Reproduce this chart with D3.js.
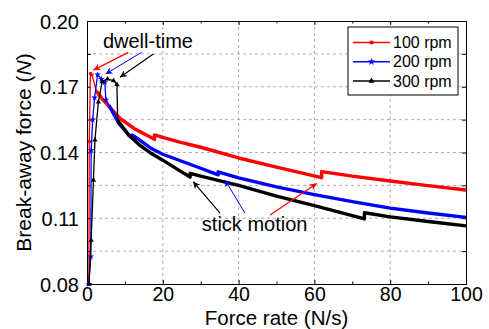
<!DOCTYPE html>
<html>
<head>
<meta charset="utf-8">
<script src="https://cdn.jsdelivr.net/npm/d3@7"></script>
<style>
  body { margin: 0; background: #fff; }
  text { font-family: "Liberation Sans", Arial, sans-serif; fill: #000; }
</style>
</head>
<body>
<svg id="chart" width="489" height="329"></svg>
<script>
// values (force rate N/s, break-away force N)
var red_x = [0.5, 0.6, 0.9, 1.3, 2.5, 4.0, 5.8, 8.7, 12.4, 17.8, 17.8, 20, 25, 30, 40, 50, 61.9, 61.9, 70, 80, 90, 100];
var red_y = [0.080, 0.145, 0.176, 0.1755, 0.168, 0.1645, 0.161, 0.1556, 0.151, 0.146, 0.148, 0.1469, 0.1445, 0.1424, 0.1375, 0.1333, 0.1285, 0.1313, 0.1292, 0.1270, 0.1249, 0.1229];

var blue_x = [0.5, 1.0, 1.1, 1.5, 2.0, 2.8, 3.8, 4.7, 5.0, 5.8, 8.4, 11.4, 11.9, 14, 17, 20, 25, 30, 34.6, 34.6, 40, 50, 60, 70, 80, 90, 100];
var blue_y = [0.080, 0.0925, 0.141, 0.155, 0.165, 0.1755, 0.1735, 0.172, 0.164, 0.1615, 0.1533, 0.1472, 0.148, 0.1455, 0.1418, 0.1392, 0.136, 0.1328, 0.1298, 0.1312, 0.1284, 0.1243, 0.1208, 0.1176, 0.1146, 0.1124, 0.1104];

var black_x = [0.5, 1.1, 1.7, 2.1, 3.0, 4.0, 5.4, 7.0, 7.9, 8.1, 8.7, 11, 14, 17, 20, 24, 27.2, 27.2, 30, 40, 50, 60, 70, 73.2, 73.2, 80, 90, 100];
var black_y = [0.080, 0.100, 0.1274, 0.1457, 0.163, 0.1723, 0.1735, 0.1728, 0.171, 0.1545, 0.1533, 0.148, 0.1432, 0.1395, 0.1365, 0.1322, 0.1288, 0.1305, 0.1292, 0.1250, 0.1201, 0.1158, 0.1112, 0.1097, 0.1125, 0.1106, 0.1085, 0.1065];

var series_names = ["100 rpm", "200 rpm", "300 rpm"];
var x_ticks = [0, 10, 20, 30, 40, 50, 60, 70, 80, 90, 100];
var x_labels = [0, 20, 40, 60, 80, 100];
var y_ticks = [0.08, 0.095, 0.11, 0.125, 0.14, 0.155, 0.17, 0.185, 0.20];
var y_labels = [0.08, 0.11, 0.14, 0.17, 0.20];

// annotation arrows [series index, x0, y0, x1(tip), y1(tip)]
var dwell_arrows = [[0, 10.9, 0.1857, 1.7, 0.1776], [1, 14.4, 0.1857, 4.9, 0.1758], [2, 17.5, 0.1849, 8.7, 0.1743]];
var stick_arrows = [[2, 35.1, 0.1123, 28.0, 0.1267], [1, 41.7, 0.1123, 36.4, 0.1275], [0, 48.3, 0.1115, 60.6, 0.1259]];

var colors = ["#ff0000", "#0000ff", "#000000"];
var symbols = [d3.symbolSquare, d3.symbolStar, d3.symbolTriangle];
var symsize = [9, 14, 12];
var dense_from = [2.4, 5.5, 8.0];  // after this x the markers merge into a thick line

var margin = {left: 87, right: 23, top: 21, bottom: 45};
var svg = d3.select("#chart");
var width = 489 - margin.left - margin.right;
var height = 329 - margin.top - margin.bottom;

var x = d3.scaleLinear().domain([0, 100]).range([0, width]);
var y = d3.scaleLinear().domain([0.08, 0.20]).range([height, 0]);

var g = svg.append("g")
    .attr("transform", "translate(" + margin.left + "," + margin.top + ")");

// grid
g.selectAll(".vgrid")
  .data(x_labels.filter(d => d > 0 && d < 100))
  .enter().append("line")
    .attr("x1", d => x(d)).attr("x2", d => x(d))
    .attr("y1", 0).attr("y2", height)
    .attr("stroke", "#9a9a9a").attr("stroke-dasharray", "3,3").attr("stroke-width", 0.8);
g.selectAll(".hgrid")
  .data(y_ticks.slice(1, -1))
  .enter().append("line")
    .attr("y1", d => y(d)).attr("y2", d => y(d))
    .attr("x1", 0).attr("x2", width)
    .attr("stroke", "#9a9a9a").attr("stroke-dasharray", "3,3").attr("stroke-width", 0.8);

// axes with inward ticks
var fmt = d3.format(".2f");
var xb = g.append("g").attr("transform", "translate(0," + height + ")")
  .call(d3.axisBottom(x).tickValues(x_ticks).tickSize(-4).tickPadding(4)
    .tickFormat(d => x_labels.indexOf(d) >= 0 ? d : ""));
var xt = g.append("g")
  .call(d3.axisTop(x).tickValues(x_ticks).tickSize(-4).tickFormat(""));
var yl = g.append("g")
  .call(d3.axisLeft(y).tickValues(y_ticks).tickSize(-4).tickPadding(8)
    .tickFormat(d => y_labels.some(v => Math.abs(v - d) < 1e-6) ? fmt(d) : ""));
var yr = g.append("g").attr("transform", "translate(" + width + ",0)")
  .call(d3.axisRight(y).tickValues(y_ticks).tickSize(-4).tickFormat(""));
[xb, xt, yl, yr].forEach(function(a) {
  a.select(".domain").attr("stroke", "#000").attr("stroke-width", 1);
  a.selectAll(".tick line").attr("stroke", "#000");
  a.selectAll("text").style("font-size", "20px").attr("fill", "#000");
});
xb.selectAll("text").style("font-size", "19.5px");
// minor x ticks shorter
[xb, xt].forEach(function(a) {
  a.selectAll(".tick line").attr("y2", function(d) { return x_labels.indexOf(d) >= 0 ? (a === xb ? -4 : 4) : (a === xb ? -2.5 : 2.5); });
});
yl.selectAll("text").attr("dy", "0.35em");
xb.selectAll("text").attr("dy", "0.68em");

// lines
var xs = [red_x, blue_x, black_x];
var ys = [red_y, blue_y, black_y];
var line = d3.line().x(d => x(d[0])).y(d => y(d[1]));

var plot = g.append("g");
xs.forEach(function(xv, i) {
  var pts = xv.map((v, j) => [v, ys[i][j]]);
  plot.append("path")
    .attr("d", line(pts))
    .attr("fill", "none").attr("stroke", colors[i]).attr("stroke-width", 1.3);
  var dense = pts.filter(p => p[0] >= dense_from[i]);
  plot.append("path")
    .attr("d", line(dense))
    .attr("fill", "none").attr("stroke", colors[i]).attr("stroke-width", 3.4)
    .attr("stroke-linejoin", "round");
  plot.selectAll(".m" + i)
    .data(pts.filter(p => p[0] < dense_from[i]))
    .enter().append("path")
      .attr("d", d3.symbol().type(symbols[i]).size(symsize[i]))
      .attr("transform", d => "translate(" + x(d[0]) + "," + y(d[1]) + ")")
      .attr("fill", colors[i]);
});

// arrow heads
var defs = svg.append("defs");
colors.forEach(function(c, i) {
  defs.append("marker")
    .attr("id", "ah" + i)
    .attr("viewBox", "0 0 10 10")
    .attr("refX", 10).attr("refY", 5)
    .attr("markerWidth", 10).attr("markerHeight", 7)
    .attr("markerUnits", "userSpaceOnUse")
    .attr("orient", "auto")
    .append("path").attr("d", "M0,0L10,5L0,10L3,5Z").attr("fill", c);
});
dwell_arrows.concat(stick_arrows).forEach(function(a) {
  var ci = a[0];
  g.append("line")
    .attr("x1", x(a[1])).attr("y1", y(a[2]))
    .attr("x2", x(a[3])).attr("y2", y(a[4]))
    .attr("stroke", colors[ci]).attr("stroke-width", ci == 1 ? 1 : 1.2)
    .attr("marker-end", "url(#ah" + ci + ")");
});

g.append("text").attr("x", x(4.2)).attr("y", y(0.1877))
  .style("font-size", "20px").text("dwell-time");
g.append("text").attr("x", x(30.3)).attr("y", y(0.1040))
  .style("font-size", "20px").text("stick motion");

// legend
var lg = svg.append("g").attr("transform", "translate(348,27)");
lg.append("rect").attr("width", 110).attr("height", 68)
  .attr("fill", "#fff").attr("stroke", "#000").attr("stroke-width", 1);
series_names.forEach(function(name, i) {
  var ly = 15.5 + i * 19.2;
  lg.append("line").attr("x1", 5).attr("x2", 42).attr("y1", ly).attr("y2", ly)
    .attr("stroke", colors[i]).attr("stroke-width", 1.5);
  lg.append("path")
    .attr("d", d3.symbol().type(symbols[i]).size(symsize[i] + 4))
    .attr("transform", "translate(23.5," + ly + ")")
    .attr("fill", colors[i]);
  lg.append("text").attr("x", 45).attr("y", ly).attr("dy", "0.35em")
    .style("font-size", "16px").text(name);
});

// axis titles
svg.append("text")
  .attr("x", margin.left + x(50)).attr("y", 325)
  .attr("text-anchor", "middle")
  .style("font-size", "20.5px")
  .text("Force rate (N/s)");
var yt = svg.append("text")
  .attr("transform", "translate(31," + (margin.top + height / 2) + ") rotate(-90)")
  .attr("text-anchor", "middle")
  .style("font-size", "21px");
yt.append("tspan").text("Break-away force (");
yt.append("tspan").style("font-style", "italic").text("N");
yt.append("tspan").text(")");
</script>
</body>
</html>
